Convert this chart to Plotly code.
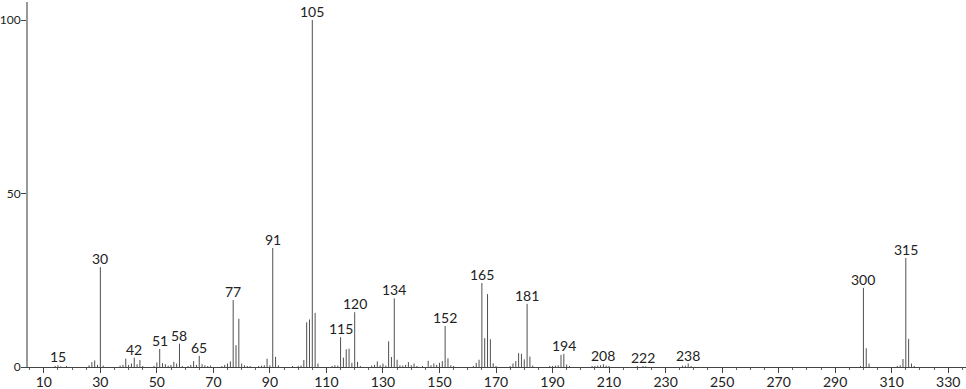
import plotly.graph_objects as go

mz = [14, 15, 16, 18, 26, 27, 28, 29, 30, 31, 37, 38, 39, 40, 41, 42, 43, 44, 45, 49,
      50, 51, 52, 53, 54, 55, 56, 57, 58, 59, 61, 62, 63, 64, 65, 66, 67, 68, 69, 73,
      74, 75, 76, 77, 78, 79, 80, 81, 82, 83, 86, 87, 88, 89, 90, 91, 92, 93, 98, 100,
      101, 102, 103, 104, 105, 106, 107, 112, 113, 114, 115, 116, 117, 118, 119, 120, 121, 122, 126, 127,
      128, 129, 130, 131, 132, 133, 134, 135, 136, 137, 138, 139, 140, 141, 142, 144, 146, 147, 148, 149,
      150, 151, 152, 153, 154, 155, 162, 163, 164, 165, 166, 167, 168, 169, 170, 175, 176, 177, 178, 179,
      180, 181, 182, 183, 189, 190, 191, 192, 193, 194, 195, 196, 204, 205, 206, 207, 208, 209, 210, 220,
      222, 223, 236, 237, 238, 239, 299, 300, 301, 302, 312, 313, 314, 315, 316, 317, 318]
intensity = [0.3, 0.5, 0.2, 0.3, 0.5, 1.4, 1.9, 0.6, 28.8, 0.4, 0.4, 0.6, 2.4, 0.6, 1.0, 2.7, 0.8, 2.0, 0.3, 0.3,
             1.3, 5.2, 1.1, 0.8, 0.4, 0.6, 1.5, 1.0, 6.7, 0.3, 0.3, 0.6, 1.7, 0.6, 3.2, 0.8, 0.5, 0.3, 0.4, 0.3,
             0.6, 1.0, 1.6, 19.3, 6.3, 13.9, 1.0, 0.5, 0.3, 0.3, 0.3, 0.4, 0.5, 2.4, 0.5, 34.3, 2.9, 0.5, 0.3, 0.3,
             0.4, 2.0, 12.9, 13.7, 100.0, 15.6, 1.0, 0.3, 0.5, 0.4, 8.6, 2.7, 5.1, 5.3, 1.2, 15.8, 1.5, 0.3, 0.4, 0.6,
             1.6, 0.5, 1.0, 0.4, 7.4, 2.9, 19.8, 2.1, 0.5, 0.4, 0.6, 1.4, 0.5, 1.0, 0.3, 0.3, 1.8, 0.5, 1.0, 0.6,
             1.2, 1.7, 11.8, 2.5, 0.5, 0.3, 0.3, 1.2, 2.1, 24.2, 8.3, 21.0, 8.0, 1.1, 0.3, 0.3, 1.0, 1.7, 4.0, 3.8,
             2.2, 18.2, 3.0, 0.4, 0.3, 0.3, 0.4, 0.5, 3.5, 3.8, 0.7, 0.3, 0.3, 0.3, 0.4, 0.5, 0.8, 0.4, 0.3, 0.3,
             0.3, 0.2, 0.4, 0.4, 1.0, 0.3, 0.3, 22.8, 5.4, 1.0, 0.3, 0.5, 2.3, 31.4, 8.1, 1.0, 0.3]
labeled = [15, 30, 42, 51, 58, 65, 77, 91, 105, 115, 120, 134, 152, 165, 181, 194, 208, 222, 238, 300, 315]
x_ticks = list(range(10, 331, 20))
y_ticks = [0, 50, 100]

FONT = "Lato, 'Open Sans', sans-serif"

xs, ys = [], []
for m, h in zip(mz, intensity):
    xs += [m, m, None]
    ys += [0, h, None]

fig = go.Figure()
fig.add_trace(go.Scatter(x=xs, y=ys, mode="lines",
                         line=dict(color="#505050", width=1),
                         hoverinfo="skip", showlegend=False))

lookup = dict(zip(mz, intensity))
for m in labeled:
    fig.add_annotation(x=m, y=lookup[m], text=str(m), showarrow=False,
                       xanchor="center", yanchor="bottom", yshift=-2,
                       font=dict(family=FONT, size=14, color="#222222"))

fig.update_layout(
    width=966, height=389,
    margin=dict(l=28, r=0, t=2, b=22),
    paper_bgcolor="white", plot_bgcolor="white",
    showlegend=False,
    font=dict(family=FONT, size=14, color="#222222"),
)
fig.update_xaxes(
    range=[4.4, 336.3], tickvals=x_ticks, ticktext=[str(v) for v in x_ticks],
    automargin=False, ticklabelstandoff=-3,
    showgrid=False, zeroline=False, showline=True, linecolor="#444444", linewidth=1,
    ticks="outside", ticklen=5, tickcolor="#444444", tickwidth=1,
    minor=dict(dtick=5, tick0=0, ticks="outside", ticklen=2, tickcolor="#666666", showgrid=False),
    tickfont=dict(family=FONT, size=14, color="#222222"),
)
fig.update_yaxes(
    range=[0, 105.2], tickvals=y_ticks, ticktext=[str(v) for v in y_ticks],
    automargin=False, ticklabelstandoff=-2,
    showgrid=False, zeroline=False, showline=True, linecolor="#999999", linewidth=2,
    ticks="outside", ticklen=5, tickcolor="#444444", tickwidth=1,
    tickfont=dict(family=FONT, size=12, color="#222222"),
)

fig.write_html("out.html")
